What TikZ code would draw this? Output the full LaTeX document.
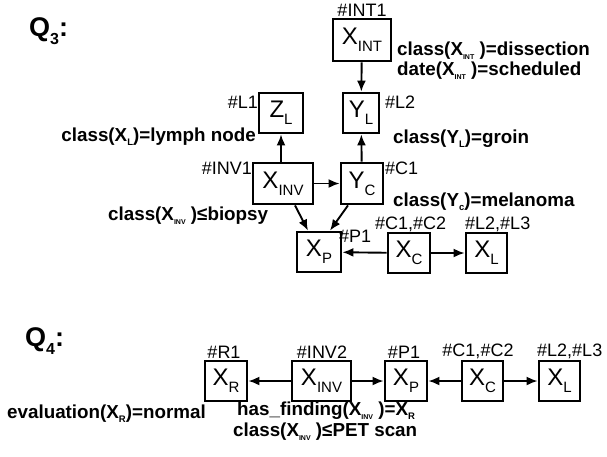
\documentclass[tikz,border=0pt]{standalone}
\usepackage{fontspec}
\setmainfont{Liberation Sans}
\usetikzlibrary{arrows.meta}

% variable inside a box: big letter with a lowered subscript
\newcommand{\varbox}[2]{{\fontsize{24}{24}\selectfont #1\raisebox{-0.28em}{\fontsize{15}{15}\selectfont #2}}}
% subscripts used inside the bold condition labels
\newcommand{\lsub}[1]{\raisebox{-0.22em}{\fontsize{9.5}{9.5}\selectfont #1}}
\newcommand{\tsub}[1]{\raisebox{-0.25em}{\fontsize{7}{7}\selectfont #1}}

\tikzset{
  varnode/.style={draw, line width=2.8pt, inner sep=0pt, align=center},
  tag/.style={inner sep=0pt, font=\fontsize{18}{18}\selectfont},
  cond/.style={inner sep=0pt, font=\fontsize{18.8}{20}\selectfont\bfseries},
  qlabel/.style={inner sep=0pt, font=\fontsize{27}{27}\selectfont\bfseries},
  link/.style={line width=1.9pt, -{Latex[length=11pt,width=9pt]}},
}

\begin{document}
\begin{tikzpicture}[x=1pt,y=-1pt]
\useasboundingbox (0,0) rectangle (607,456);

% ---------- Q3 ----------
\node[qlabel, anchor=base west] (q3) at (29,36) {Q\raisebox{-0.3em}{\fontsize{16}{16}\selectfont 3}:};

\node[varnode, minimum width=58pt, minimum height=42pt] (xint) at (362,40) {\varbox{X}{INT}};
\node[varnode, minimum width=36pt, minimum height=40pt] (yl)   at (361,113) {\varbox{Y}{L}};
\node[varnode, minimum width=44pt, minimum height=40pt] (zl)   at (281,113) {\varbox{Z}{L}};
\node[varnode, minimum width=60pt, minimum height=41pt] (xinv) at (283,183.5) {\varbox{X}{INV}};
\node[varnode, minimum width=42pt, minimum height=41pt] (yc)   at (362,183.5) {\varbox{Y}{C}};
\node[varnode, minimum width=44pt, minimum height=40pt] (xp)   at (319,252) {\varbox{X}{P}};
\node[varnode, minimum width=42pt, minimum height=40pt] (xc)   at (409,253) {\varbox{X}{C}};
\node[varnode, minimum width=41pt, minimum height=40pt] (xl)   at (486.5,253) {\varbox{X}{L}};

\node[tag, anchor=south] (t-int1) at (362,17) {\#INT1};
\node[tag, anchor=west] (t-l2) at (385,102) {\#L2};
\node[tag, anchor=east] (t-l1) at (258,102) {\#L1};
\node[tag, anchor=east] (t-inv1) at (252,168) {\#INV1};
\node[tag, anchor=west] (t-c1) at (385,168) {\#C1};
\node[tag, anchor=west] (t-p1) at (339,236) {\#P1};
\node[tag, anchor=west] (t-c12) at (375,224) {\#C1,\#C2};
\node[tag, anchor=west] (t-l23) at (465,224) {\#L2,\#L3};

\node[cond, anchor=base west] (c-int1) at (397,55) {class(X\tsub{INT} )=dissection};
\node[cond, anchor=base west] (c-int2) at (397,75) {date(X\tsub{INT} )=scheduled};
\node[cond, anchor=base west] (c-yl) at (393,143) {class(Y\lsub{L})=groin};
\node[cond, anchor=base east] (c-xl) at (256,141) {class(X\lsub{L})=lymph node};
\node[cond, anchor=base west] (c-inv) at (108,220) {class(X\tsub{INV} )≤biopsy};
\node[cond, anchor=base west] (c-yc) at (393,206) {class(Y\lsub{c})=melanoma};

\draw[link] (xint) -- (yl);
\draw[link] (xinv.north -| zl) -- (zl.south);
\draw[link] (yc) -- (yl);
\draw[link] (xinv) -- (yc);
\draw[link] (xinv.south -| 295,0) -- (xp.north -| 308,0);
\draw[link] (yc.south -| 348,0) -- (xp.north -| 330,0);
\draw[link] (xc) -- (xp);
\draw[link] (xc) -- (xl);

% ---------- Q4 ----------
\node[qlabel, anchor=base west] (q4) at (25,346) {Q\raisebox{-0.3em}{\fontsize{16}{16}\selectfont 4}:};

\node[varnode, minimum width=42pt, minimum height=40pt] (xr)    at (226,381) {\varbox{X}{R}};
\node[varnode, minimum width=59pt, minimum height=40pt] (xinv2) at (321.5,381) {\varbox{X}{INV}};
\node[varnode, minimum width=42pt, minimum height=40pt] (xp2)   at (406,381) {\varbox{X}{P}};
\node[varnode, minimum width=41pt, minimum height=40pt] (xc2)   at (482.5,381) {\varbox{X}{C}};
\node[varnode, minimum width=41pt, minimum height=40pt] (xl2)   at (559.5,381) {\varbox{X}{L}};

\node[tag, anchor=south] (t-r1) at (224,359) {\#R1};
\node[tag, anchor=south] (t-inv2) at (322,359) {\#INV2};
\node[tag, anchor=south] (t-p1b) at (404,359) {\#P1};
\node[tag, anchor=south] (t-c12b) at (478,359) {\#C1,\#C2};
\node[tag, anchor=south west] (t-l23b) at (537,359) {\#L2,\#L3};

\node[cond, anchor=base west] (c-xr) at (7,418) {evaluation(X\lsub{R})=normal};
\node[cond, anchor=base west] (c-hf) at (237,415) {has\_finding(X\tsub{INV} )=X\lsub{R}};
\node[cond, anchor=base west] (c-pet) at (233,436) {class(X\tsub{INV} )≤PET scan};

\draw[link] (xinv2) -- (xr);
\draw[link] (xinv2) -- (xp2);
\draw[link] (xc2) -- (xp2);
\draw[link] (xc2) -- (xl2);
\end{tikzpicture}
\end{document}
